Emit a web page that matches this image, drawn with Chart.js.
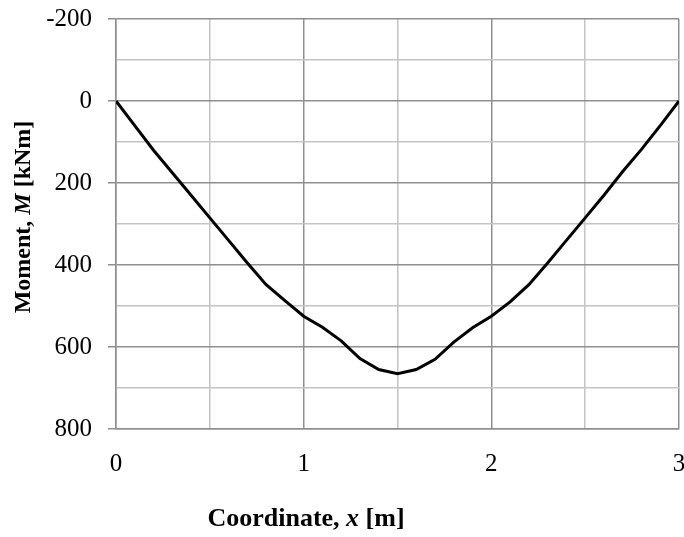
<!DOCTYPE html>
<html>
<head>
<meta charset="utf-8">
<script src="https://cdn.jsdelivr.net/npm/chart.js@4/dist/chart.umd.min.js"></script>
<style>
html,body{margin:0;padding:0;background:#fff;}
#wrap{width:684px;height:537px;position:relative;}
</style>
</head>
<body>
<div id="wrap"><canvas id="c" width="684" height="537"></canvas></div>
<script>
const coordX = [0,0.1,0.2,0.3,0.4,0.5,0.6,0.7,0.8,0.9,1.0,1.1,1.2,1.3,1.4,1.5,1.6,1.7,1.8,1.9,2.0,2.1,2.2,2.3,2.4,2.5,2.6,2.7,2.8,2.9,3.0];
const moment = [0,60,120,175,230,285,340,395,448,487,525,552,585,628,655,665,655,630,588,553,525,490,448,395,340,285,230,172,118,60,0];
const xTickLabels = [0,1,2,3];
const yTickLabels = [-200,0,200,400,600,800];

const MAJOR = '#8f8f8f';
const MINOR = '#c4c4c4';
const FONT = "'Liberation Serif', 'Times New Roman', serif";

const points = coordX.map((x,i)=>({x:x,y:moment[i]}));

const titlePlugin = {
  id:'titles',
  afterDraw(chart){
    const ctx = chart.ctx;
    const drawRuns = (runs, cx, cy, rot) => {
      ctx.save();
      ctx.translate(cx, cy);
      ctx.rotate(rot);
      ctx.fillStyle = '#000';
      ctx.textBaseline = 'middle';
      ctx.textAlign = 'left';
      let total = 0;
      runs.forEach(r=>{ctx.font=r.f; total += ctx.measureText(r.t).width;});
      let x = -total/2;
      runs.forEach(r=>{ctx.font=r.f; ctx.fillText(r.t, x, 0); x += ctx.measureText(r.t).width;});
      ctx.restore();
    };
    const bx = "bold 26px " + FONT, bix = "italic bold 26px " + FONT;
    const by = "bold 24px " + FONT, biy = "italic bold 24px " + FONT;
    drawRuns([{t:'Coordinate, ',f:bx},{t:'x',f:bix},{t:' [m]',f:bx}], 306, 519, 0);
    drawRuns([{t:'Moment, ',f:by},{t:'M',f:biy},{t:' [kNm]',f:by}], 24, 217, -Math.PI/2);
  }
};

new Chart(document.getElementById('c'), {
  type:'line',
  data:{datasets:[{data:points, borderColor:'#000', borderWidth:3, pointRadius:0, tension:0, fill:false}]},
  options:{
    responsive:false,
    animation:false,
    layout:{padding:{top:19,right:5,left:0,bottom:0}},
    plugins:{legend:{display:false}, tooltip:{enabled:false}},
    scales:{
      x:{
        type:'linear', min:0, max:3,
        afterFit(s){ s.height = 108; s.paddingLeft = 0; s.paddingRight = 0; },
        ticks:{stepSize:0.5, autoSkip:false, maxRotation:0, padding:20, color:'#000',
          font:{family:FONT, size:25},
          callback:(v)=> xTickLabels.includes(v) ? String(v) : ''},
        grid:{drawTicks:false, lineWidth:1.5,
          color:(c)=> (c.tick && Number.isInteger(c.tick.value)) ? MAJOR : MINOR},
        border:{color:MAJOR, width:1.5}
      },
      y:{
        type:'linear', min:-200, max:800, reverse:true,
        afterFit(s){ s.width = 116; s.paddingTop = 0; s.paddingBottom = 0; },
        ticks:{stepSize:100, autoSkip:false, padding:16, color:'#000',
          font:{family:FONT, size:25},
          callback:(v)=> yTickLabels.includes(v) ? String(v) : ''},
        grid:{tickLength:8, lineWidth:1.5,
          color:(c)=> (c.tick && c.tick.value % 200 === 0) ? MAJOR : MINOR,
          tickColor:(c)=> (c.tick && c.tick.value % 200 === 0) ? MAJOR : 'rgba(0,0,0,0)'},
        border:{color:MAJOR, width:1.5}
      }
    }
  },
  plugins:[titlePlugin]
});
</script>
</body>
</html>
